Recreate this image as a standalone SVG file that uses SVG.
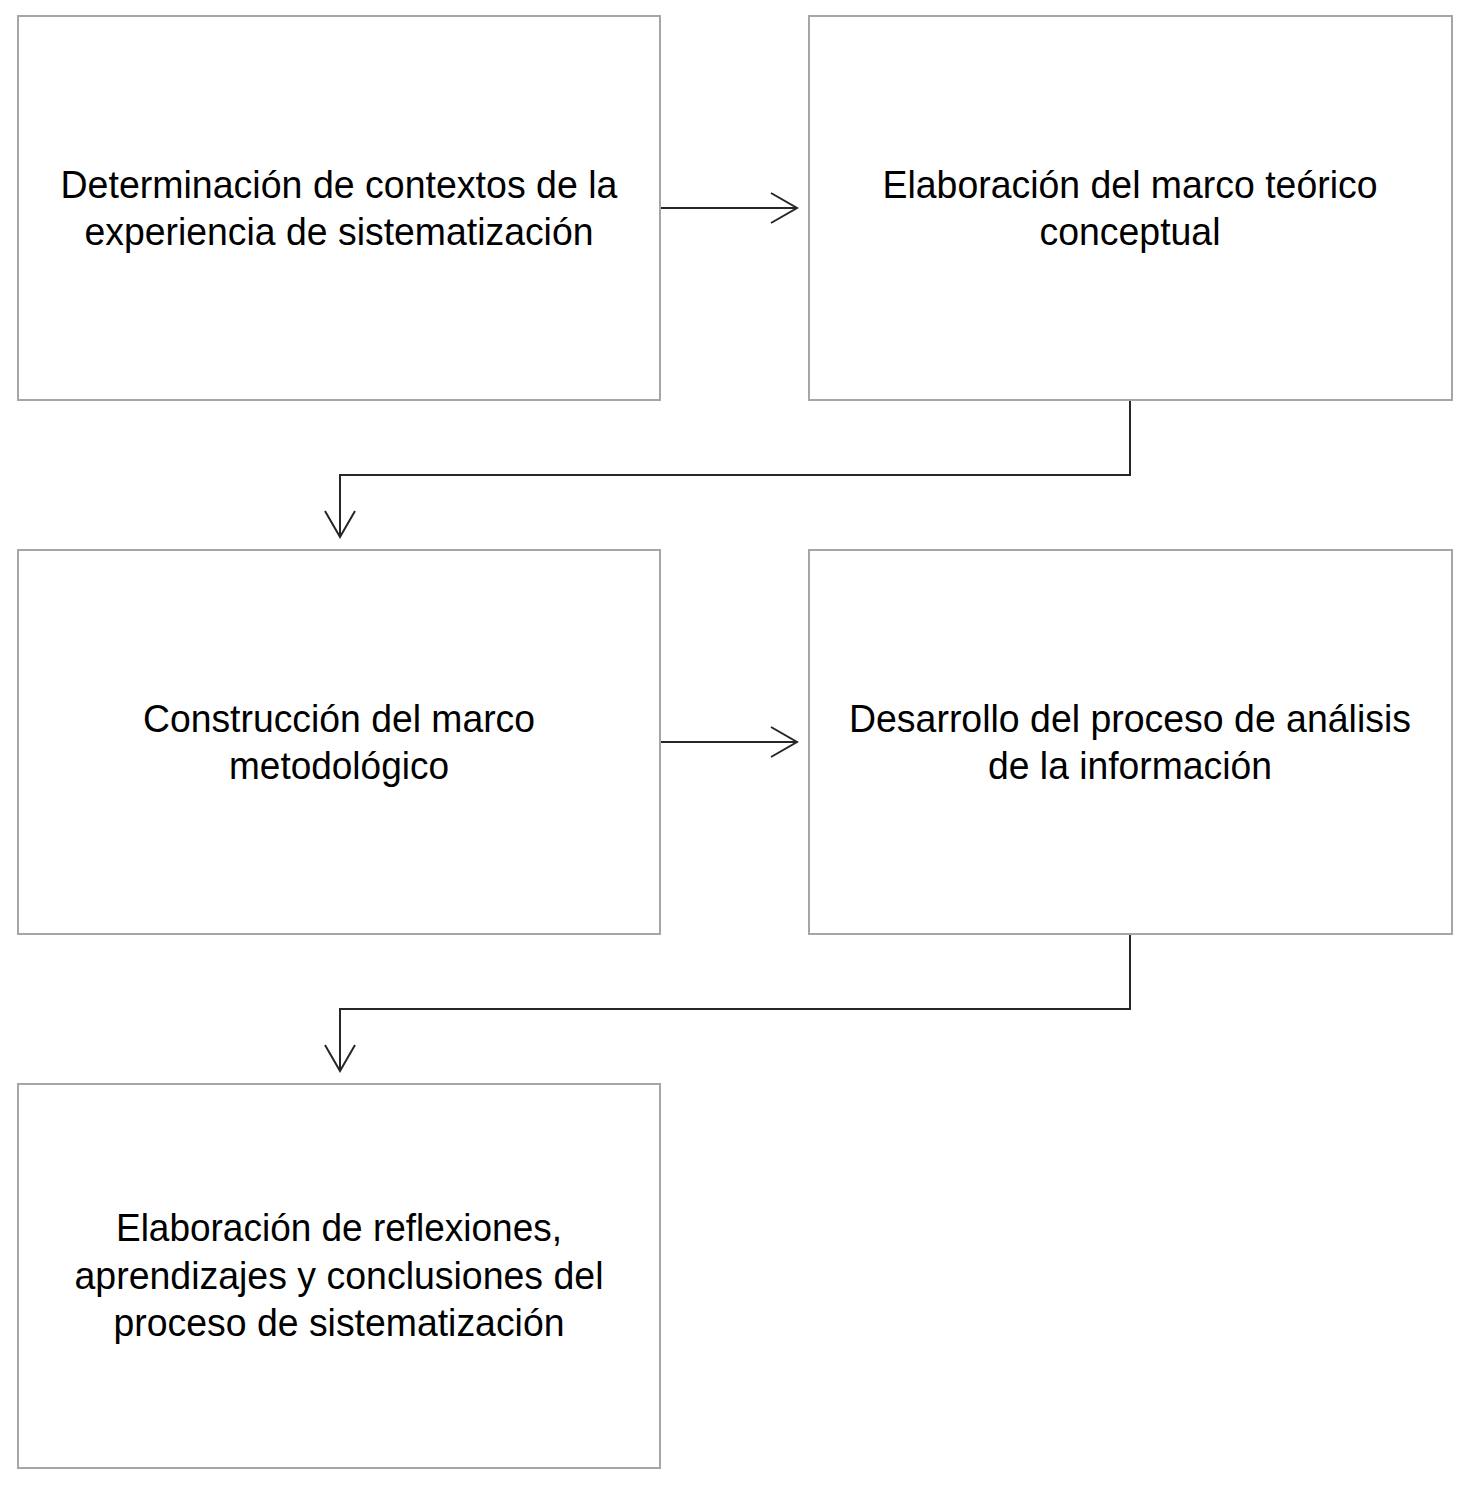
<svg xmlns="http://www.w3.org/2000/svg" width="1474" height="1492" viewBox="0 0 1474 1492">
<style>
.box{fill:#fff;stroke:#a6a6a6;stroke-width:2}
.t{font-family:"Liberation Sans",Arial,sans-serif;font-size:39px;fill:#000;text-anchor:middle}
.c{fill:none;stroke:#262626;stroke-width:2}
</style>
<defs>
<marker id="a" markerWidth="30" markerHeight="34" refX="28" refY="17" orient="auto" markerUnits="userSpaceOnUse">
<polyline points="2,2 28,17 2,32" fill="none" stroke="#262626" stroke-width="2"/>
</marker>
</defs>
<rect width="1474" height="1492" fill="#fff"/>
<g id="n1"><rect class="box" x="18" y="16" width="642" height="384"/>
<text class="t" x="339" y="198" textLength="557" lengthAdjust="spacingAndGlyphs">Determinación de contextos de la</text>
<text class="t" x="339" y="245" textLength="509" lengthAdjust="spacingAndGlyphs">experiencia de sistematización</text></g>
<g id="n2"><rect class="box" x="809" y="16" width="643" height="384"/>
<text class="t" x="1130" y="198" textLength="495" lengthAdjust="spacingAndGlyphs">Elaboración del marco teórico</text>
<text class="t" x="1130" y="245" textLength="181" lengthAdjust="spacingAndGlyphs">conceptual</text></g>
<g id="n3"><rect class="box" x="18" y="550" width="642" height="384"/>
<text class="t" x="339" y="732" textLength="392" lengthAdjust="spacingAndGlyphs">Construcción del marco</text>
<text class="t" x="339" y="779" textLength="220" lengthAdjust="spacingAndGlyphs">metodológico</text></g>
<g id="n4"><rect class="box" x="809" y="550" width="643" height="384"/>
<text class="t" x="1130" y="732" textLength="562" lengthAdjust="spacingAndGlyphs">Desarrollo del proceso de análisis</text>
<text class="t" x="1130" y="779" textLength="284" lengthAdjust="spacingAndGlyphs">de la información</text></g>
<g id="n5"><rect class="box" x="18" y="1084" width="642" height="384"/>
<text class="t" x="339" y="1241" textLength="446" lengthAdjust="spacingAndGlyphs">Elaboración de reflexiones,</text>
<text class="t" x="339" y="1289" textLength="529" lengthAdjust="spacingAndGlyphs">aprendizajes y conclusiones del</text>
<text class="t" x="339" y="1336" textLength="451" lengthAdjust="spacingAndGlyphs">proceso de sistematización</text></g>
<g id="connectors">
<line class="c" x1="661" y1="208" x2="797" y2="208" marker-end="url(#a)"/>
<polyline class="c" points="1130,401 1130,475 340,475 340,537" marker-end="url(#a)"/>
<line class="c" x1="661" y1="742" x2="797" y2="742" marker-end="url(#a)"/>
<polyline class="c" points="1130,935 1130,1009 340,1009 340,1071" marker-end="url(#a)"/>
</g>
</svg>
